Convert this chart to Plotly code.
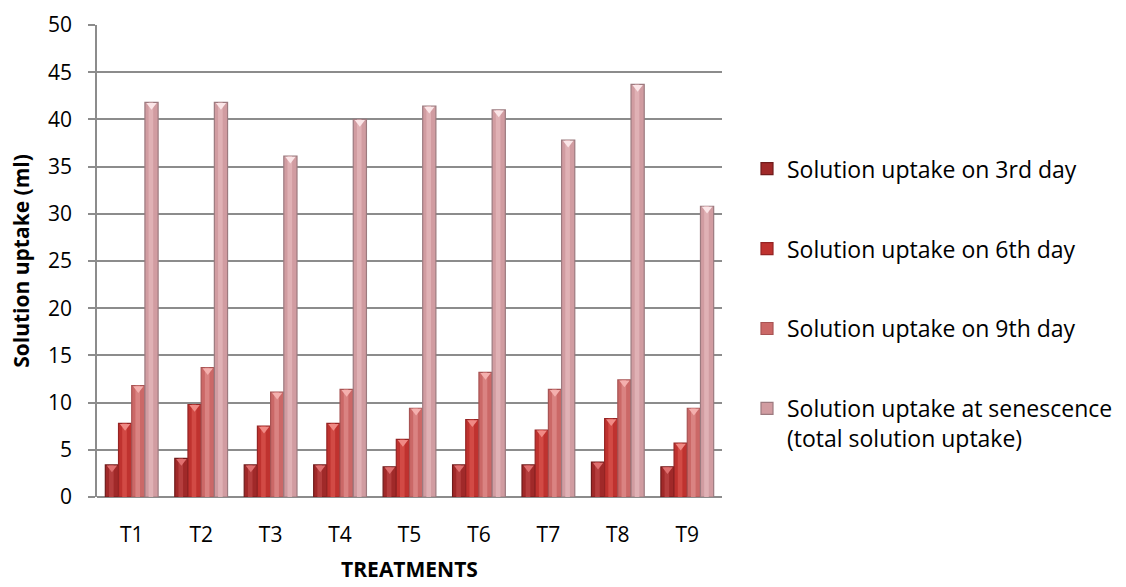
import plotly.graph_objects as go

# Treatments and solution uptake (ml) for each stage
treatments = ["T1", "T2", "T3", "T4", "T5", "T6", "T7", "T8", "T9"]
uptake_day3 = [3.4, 4.1, 3.4, 3.4, 3.2, 3.4, 3.4, 3.7, 3.2]
uptake_day6 = [7.8, 9.8, 7.5, 7.8, 6.1, 8.2, 7.1, 8.3, 5.7]
uptake_day9 = [11.8, 13.7, 11.1, 11.4, 9.4, 13.2, 11.4, 12.4, 9.4]
uptake_total = [41.8, 41.8, 36.1, 40.0, 41.4, 41.0, 37.8, 43.7, 30.8]

series_names = [
    "Solution uptake on 3rd day",
    "Solution uptake on 6th day",
    "Solution uptake on 9th day",
    "Solution uptake at senescence<br>(total solution uptake)",
]
series_values = [uptake_day3, uptake_day6, uptake_day9, uptake_total]

# edge / body / highlight / bevel colours for each series
palette = [
    ("#701c1c", "#a02929", "#b53e3e", "#e07070"),
    ("#952424", "#bf322f", "#d24a45", "#f08a85"),
    ("#a85454", "#cb6867", "#da8382", "#f4b0ae"),
    ("#9c7a7f", "#d19ca1", "#e0b1b5", "#fbe6e8"),
]

FONT = "Open Sans, Noto Sans, sans-serif"
BAR_W = 0.19
START = -0.38
xs = list(range(len(treatments)))

fig = go.Figure()
for i, (name, vals) in enumerate(zip(series_names, series_values)):
    edge, body, light, bevel = palette[i]
    off = START + i * BAR_W
    # full bar (darker edges)
    fig.add_trace(go.Bar(
        x=xs, y=vals, name=name, offset=off, width=BAR_W,
        marker=dict(color=body, line=dict(color=edge, width=1.2)),
        legendgroup=f"g{i}", showlegend=True, hoverinfo="y",
    ))
    # soft cylindrical highlight down the middle
    fig.add_trace(go.Bar(
        x=xs, y=vals, offset=off + BAR_W * 0.28, width=BAR_W * 0.35,
        marker=dict(color=light, line=dict(width=0)),
        legendgroup=f"g{i}", showlegend=False, hoverinfo="skip",
    ))
    # bevelled top
    fig.add_trace(go.Scatter(
        x=[x + off + BAR_W / 2 for x in xs],
        y=[v - 0.3 for v in vals],
        mode="markers",
        marker=dict(symbol="triangle-down", size=9, color=bevel,
                    line=dict(width=0)),
        legendgroup=f"g{i}", showlegend=False, hoverinfo="skip",
    ))

grid = "#8c8c8c"
fig.update_layout(
    width=1126, height=587,
    margin=dict(l=97, r=404, t=25, b=90, autoexpand=False),
    barmode="overlay",
    plot_bgcolor="white", paper_bgcolor="white",
    font=dict(family=FONT, size=20, color="#000000"),
    legend=dict(
        x=1.04, y=0.741, xanchor="left", yanchor="top",
        font=dict(family=FONT, size=23, color="#000000"),
        tracegroupgap=47, valign="top",
        itemwidth=30, bgcolor="rgba(0,0,0,0)",
    ),
    xaxis=dict(
        range=[-0.5, len(treatments) - 0.5],
        tickmode="array", tickvals=xs, ticktext=treatments,
        showgrid=False, zeroline=False, showline=False, ticks="",
        ticklabelstandoff=23, automargin=False,
        tickfont=dict(family=FONT, size=21),
        title=dict(text="<b>TREATMENTS</b>", standoff=15,
                   font=dict(family=FONT, size=21)),
    ),
    yaxis=dict(
        range=[0, 50], dtick=5,
        showgrid=True, gridcolor=grid, gridwidth=1.5,
        zeroline=True, zerolinecolor=grid, zerolinewidth=1.5,
        showline=True, linecolor=grid, linewidth=1.5,
        ticks="outside", ticklen=7, tickcolor=grid, tickwidth=1.5,
        ticklabelstandoff=12, automargin=False,
        tickfont=dict(family=FONT, size=21),
        title=dict(text="<b>Solution uptake (ml)</b>", standoff=13,
                   font=dict(family=FONT, size=21)),
    ),
)

fig.write_html("out.html")
